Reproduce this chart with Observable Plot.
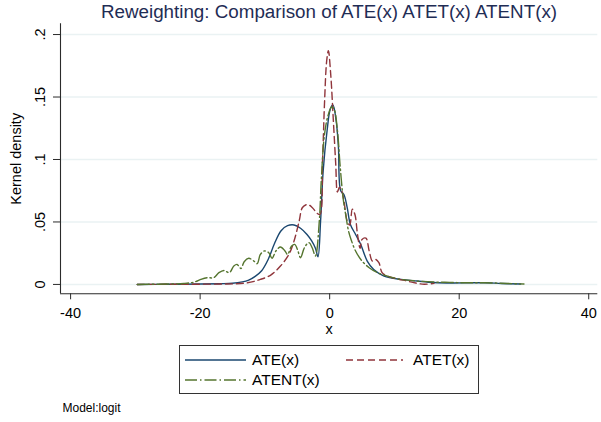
<!DOCTYPE html>
<html><head><meta charset="utf-8">
<script src="https://cdn.jsdelivr.net/npm/d3@7"></script>
<script src="https://cdn.jsdelivr.net/npm/@observablehq/plot@0.6"></script>
<style>
body{margin:0;background:#fff;}
#wrap{position:relative;width:601px;height:422px;overflow:hidden;background:#fff;font-family:"Liberation Sans",Arial,sans-serif;}
#title{position:absolute;left:60px;width:538px;top:0;text-align:center;font-size:18.8px;line-height:23px;color:#1f2d55;white-space:nowrap;}
#chart{position:absolute;left:0;top:0;}
#legend{position:absolute;left:179px;top:345px;width:300px;height:49px;border:1px solid #333;box-sizing:border-box;}
.li{position:absolute;font-size:15.5px;line-height:20px;color:#000;white-space:nowrap;}
.ls{position:absolute;}
#caption{position:absolute;left:62.5px;top:400px;font-size:12px;line-height:16px;color:#000;}
</style></head>
<body>
<div id="wrap">
  <div id="chart"></div>
  <div id="title"></div>
  <div id="legend"></div>
  <div id="caption"></div>
</div>
<script>
const titleText = "Reweighting: Comparison of ATE(x) ATET(x) ATENT(x)";
const captionText = "Model:logit";
const xLabel = "x";
const yLabel = "Kernel density";
const xTicks = [-40, -20, 0, 20, 40];
const xTickLabels = ["-40", "-20", "0", "20", "40"];
const yTicks = [0, 0.05, 0.1, 0.15, 0.2];
const yTickLabels = ["0", ".05", ".1", ".15", ".2"];
const xDomain = [-41.56, 41.4];
const yDomain = [-0.0075, 0.2086];

const seriesNames = ["ATE(x)", "ATET(x)", "ATENT(x)"];
const seriesColors = ["#1a476f", "#90353b", "#55752f"];
const seriesDash = [null, "7,4", "12,3,1.5,3"];

const ateX = [-29.7, -25, -20, -17, -15, -13.5, -12.5, -11.5, -10.5, -9.5, -8.5, -7.5, -6.5, -5.5, -4.5, -3.5, -2.8, -2.2, -1.8, -1.4, -1.0, -0.4, 0.1, 0.5, 1.0, 1.35, 1.7, 2.2, 2.7, 3.2, 4.0, 4.8, 5.8, 6.8, 8.4, 11, 13.5, 16, 19, 22, 24, 26.5, 29.5];
const ateY = [0, 0.0001, 0.0003, 0.0006, 0.0009, 0.002, 0.0035, 0.0065, 0.011, 0.02, 0.033, 0.043, 0.047, 0.0476, 0.045, 0.040, 0.035, 0.029, 0.0222, 0.051, 0.091, 0.123, 0.1405, 0.1437, 0.131, 0.110, 0.075, 0.072, 0.0616, 0.048, 0.040, 0.032, 0.0187, 0.012, 0.0067, 0.004, 0.0027, 0.0015, 0.0011, 0.0013, 0.0013, 0.0008, 0.0003];

const atetX = [-29.7, -25, -20, -17, -14.8, -12.7, -10.7, -9.1, -7.6, -6.3, -5.5, -4.7, -4.2, -3.4, -2.7, -1.9, -1.5, -1.1, -0.8, -0.46, -0.2, 0.15, 0.57, 0.93, 1.2, 1.5, 1.8, 2.2, 2.7, 3.1, 3.5, 3.9, 4.3, 4.7, 5.0, 5.6, 6.1, 6.6, 7.1, 7.6, 8.1, 8.9, 10.4, 12.0, 13.3, 14.6, 16.1];
const atetY = [0, 0.0001, 0.0002, 0.0003, 0.0005, 0.0013, 0.004, 0.0075, 0.0147, 0.024, 0.0348, 0.0509, 0.0616, 0.064, 0.0616, 0.0568, 0.056, 0.099, 0.1446, 0.179, 0.187, 0.169, 0.131, 0.097, 0.074, 0.0776, 0.076, 0.067, 0.0509, 0.0476, 0.0602, 0.056, 0.040, 0.029, 0.036, 0.037, 0.0268, 0.0187, 0.020, 0.0174, 0.0094, 0.0067, 0.0045, 0.0027, 0.0011, 0.0002, 0.0008];

const atentX = [-29.7, -25, -22.5, -20.9, -19.9, -18.9, -17.9, -17.1, -16.3, -15.5, -14.8, -14.3, -13.7, -13.2, -12.5, -11.7, -11.2, -10.7, -10.1, -9.4, -8.9, -8.3, -7.6, -6.9, -6.5, -5.9, -5.4, -4.9, -4.5, -3.9, -3.2, -2.7, -2.2, -1.6, -1.3, -0.8, -0.26, 0.3, 0.67, 1.2, 1.6, 2.1, 2.5, 2.9, 3.3, 4.0, 5.0, 6.1, 7.4, 8.9, 11, 13.5, 16.1, 18.7, 21.3, 23.8, 27.4, 30];
const atentY = [0, 0.0003, 0.0008, 0.0019, 0.004, 0.0054, 0.0054, 0.0094, 0.0112, 0.0094, 0.0147, 0.016, 0.0128, 0.0182, 0.0209, 0.0187, 0.0166, 0.024, 0.0268, 0.0254, 0.0209, 0.0268, 0.030, 0.0268, 0.024, 0.0305, 0.032, 0.0268, 0.0214, 0.0294, 0.0335, 0.0294, 0.0228, 0.0509, 0.083, 0.120, 0.135, 0.142, 0.1405, 0.123, 0.096, 0.068, 0.055, 0.043, 0.036, 0.0268, 0.0187, 0.0134, 0.0094, 0.0067, 0.004, 0.0027, 0.0019, 0.0016, 0.0013, 0.0013, 0.0008, 0.0003];

const seriesX = [ateX, atetX, atentX];
const seriesY = [ateY, atetY, atentY];

const font = "Liberation Sans, Arial, sans-serif";
const axisColor = "#2b2b2b";

const lineMarks = seriesNames.map((name, s) => {
  const rows = seriesX[s].map((x, i) => ({x, y: seriesY[s][i]}));
  return Plot.line(rows, {x: "x", y: "y", stroke: seriesColors[s], strokeWidth: 1.4,
    strokeDasharray: seriesDash[s] || undefined, curve: "catmull-rom"});
});

const chart = Plot.plot({
  width: 601, height: 340,
  marginLeft: 60, marginRight: 3.7, marginTop: 23.3, marginBottom: 46.7,
  x: {domain: xDomain},
  y: {domain: yDomain},
  style: {fontFamily: font, fontSize: "14.5px", color: "#000", background: "#fff", overflow: "visible"},
  marks: [
    Plot.gridY(yTicks, {stroke: "#eaf2f3", strokeOpacity: 1, strokeWidth: 1.5}),
    ...lineMarks,
    Plot.ruleX([xDomain[0]], {stroke: axisColor, strokeWidth: 1.1}),
    Plot.ruleY([yDomain[0]], {stroke: axisColor, strokeWidth: 1.1}),
    Plot.axisX({ticks: xTicks, tickFormat: (d, i) => xTickLabels[i], tickSize: 6, tickPadding: 8,
      label: null, fontSize: 14.5, stroke: axisColor, fill: "#000"}),
    Plot.axisY({ticks: yTicks, tickFormat: () => "", tickSize: 7, label: null, stroke: axisColor}),
    Plot.text(yTicks, {y: d => d, text: (d, i) => yTickLabels[i], frameAnchor: "left", dx: -20,
      rotate: -90, fontSize: 14.5, fill: "#000", textAnchor: "middle", lineAnchor: "middle"}),
    Plot.text([yLabel], {text: d => d, frameAnchor: "left", dx: -44, rotate: -90, fontSize: 14.5,
      fill: "#000", textAnchor: "middle", lineAnchor: "middle"}),
    Plot.text([xLabel], {text: d => d, frameAnchor: "bottom", dy: 36, fontSize: 14.5, fill: "#000",
      lineAnchor: "middle"})
  ]
});
document.getElementById("chart").appendChild(chart);
document.getElementById("title").textContent = titleText;
document.getElementById("caption").textContent = captionText;

// legend
const legend = document.getElementById("legend");
const legendPos = [
  {lx: 5, lw: 61, tx: 72, cy: 14},
  {lx: 166, lw: 57, tx: 233, cy: 14},
  {lx: 5, lw: 61, tx: 72, cy: 34}
];
seriesNames.forEach((name, s) => {
  const p = legendPos[s];
  const svg = d3.create("svg").attr("class", "ls").attr("width", p.lw).attr("height", 4)
    .style("left", p.lx + "px").style("top", (p.cy - 2) + "px");
  svg.append("line").attr("x1", 0).attr("x2", p.lw).attr("y1", 2).attr("y2", 2)
    .attr("stroke", seriesColors[s]).attr("stroke-width", 1.4)
    .attr("stroke-dasharray", seriesDash[s] || null);
  legend.appendChild(svg.node());
  const t = document.createElement("div");
  t.className = "li";
  t.textContent = name;
  t.style.left = p.tx + "px";
  t.style.top = (p.cy - 10) + "px";
  legend.appendChild(t);
});
</script>
</body></html>
